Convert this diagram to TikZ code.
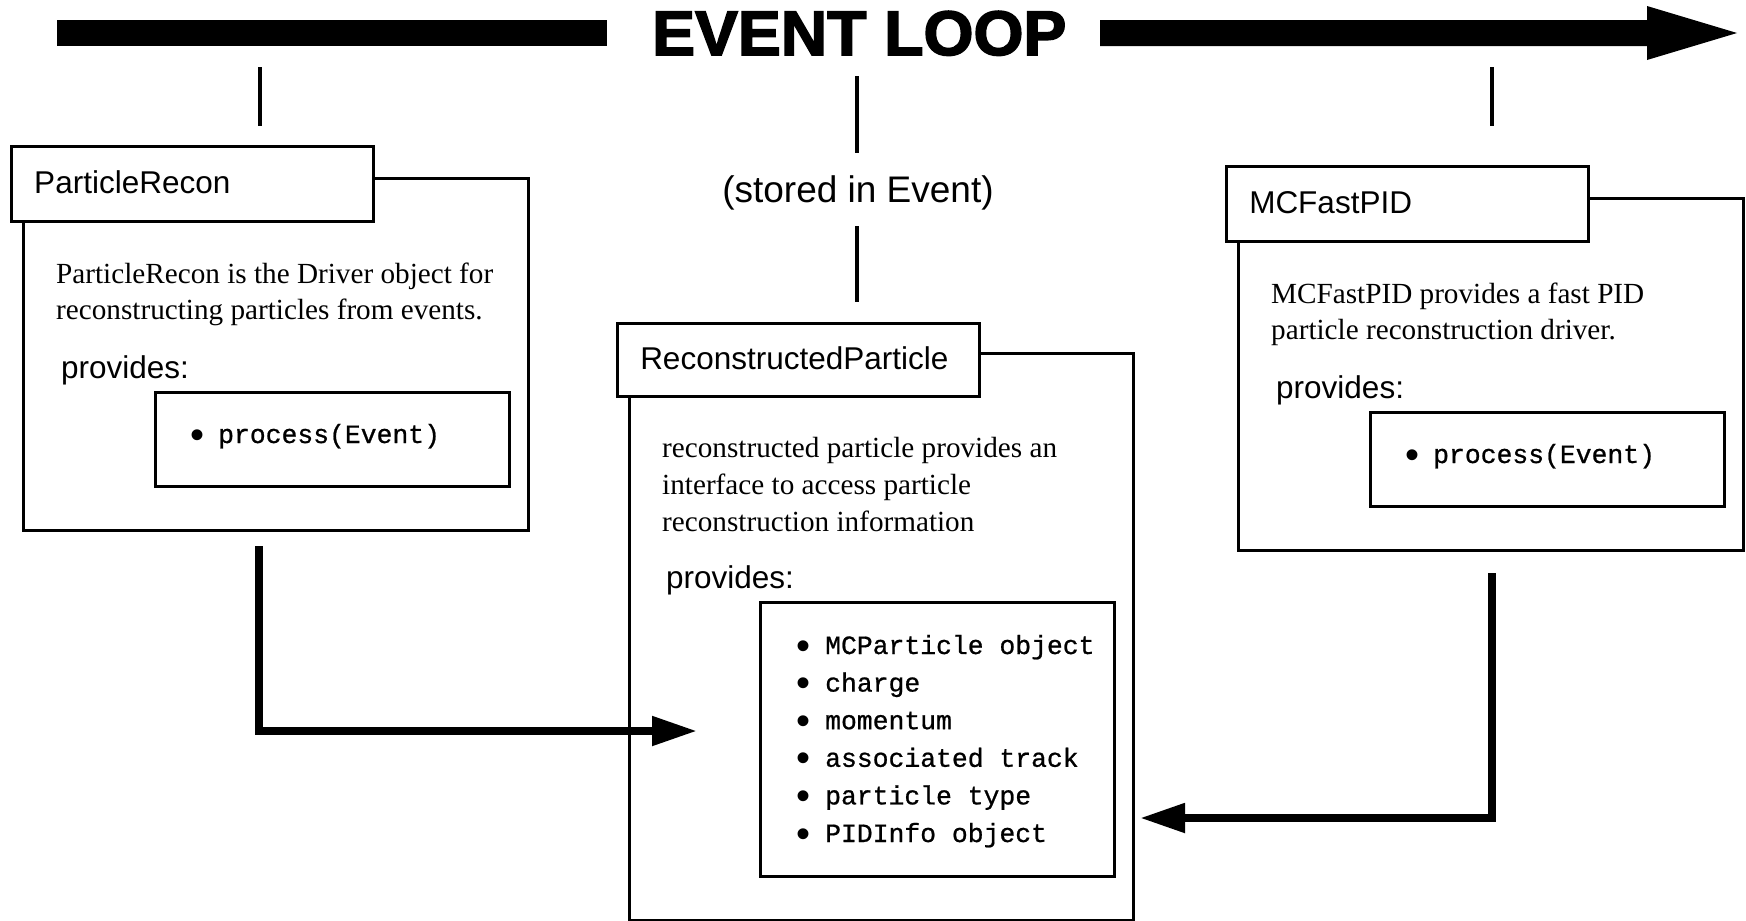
\documentclass[tikz,border=0pt]{standalone}
\usepackage{fontspec}
\setmainfont{Liberation Serif}
\setsansfont{Liberation Sans}
\setmonofont{Liberation Mono}[FakeBold=0.8]
\newfontfamily\heavyfont{Liberation Sans}[BoldFeatures={FakeBold=2.5}]
\usetikzlibrary{arrows.meta}

\newcommand\titlefont{\sffamily\fontsize{31.5}{38}\selectfont}
\newcommand\descfont{\rmfamily\fontsize{29.2}{37}\selectfont}
\newcommand\codefont{\ttfamily\fontsize{26.4}{37}\selectfont}
\newcommand\dotfont{\sffamily\fontsize{40}{40}\selectfont}

\begin{document}
\begin{tikzpicture}[x=1pt,y=-1pt,
  body/.style={draw, line width=2.5pt, inner sep=0pt, anchor=north west},
  frame/.style={draw, fill=white, line width=2.5pt, inner sep=0pt,
    anchor=north west, minimum width=362pt, minimum height=75pt,
    text width=316pt, align=left, text height=23pt, text depth=4pt,
    font=\titlefont},
  txt/.style={anchor=base west, inner sep=0pt, font=\descfont},
  prov/.style={anchor=base west, inner sep=0pt, font=\titlefont},
  code/.style={anchor=base west, inner sep=0pt, font=\codefont},
  dot/.style={anchor=base, inner sep=0pt, font=\dotfont},
  tick/.style={line width=4.5pt},
  flow/.style={line width=8pt, -{Triangle[length=45pt,width=28pt]}}]
\useasboundingbox (0,0) rectangle (1746,921);

% ---- event loop banner ----
\fill (57,20) rectangle (607,46);
\fill (1100,20) -- (1647,20) -- (1647,6) -- (1737,33) -- (1647,60)
      -- (1647,46) -- (1100,46) -- cycle;
\node[anchor=base west, inner sep=0pt,
      font=\heavyfont\bfseries\fontsize{63}{66}\selectfont] (loop) at (652,55)
      {\scalebox{1.02}[1]{EVENT LOOP}};

% ---- ParticleRecon ----
\node[body, minimum width=505pt, minimum height=352pt] (prBody) at (22,177) {};
\node[frame] (prTitle) at (10,145) {ParticleRecon};
\node[txt] (prD1) at (56,283) {ParticleRecon is the Driver object for};
\node[txt] (prD2) at (56,319) {reconstructing particles from events.};
\node[prov] (prProv) at (61,378) {provides:};
\node[body, minimum width=354pt, minimum height=94pt] (prList) at (154,391) {};
\node[dot] (prB1) at (197,448) {•};
\node[code] (prI1) at (218,443) {process(Event)};

% ---- MCFastPID ----
\node[body, minimum width=505pt, minimum height=352pt] (mcBody) at (1237,197) {};
\node[frame] (mcTitle) at (1225,165) {MCFastPID};
\node[txt] (mcD1) at (1271,303) {MCFastPID provides a fast PID};
\node[txt] (mcD2) at (1271,339) {particle reconstruction driver.};
\node[prov] (mcProv) at (1276,398) {provides:};
\node[body, minimum width=354pt, minimum height=94pt] (mcList) at (1369,411) {};
\node[dot] (mcB1) at (1412,468) {•};
\node[code] (mcI1) at (1433,463) {process(Event)};

% ---- ReconstructedParticle ----
\node[body, minimum width=504pt, minimum height=567pt] (rpBody) at (628,352) {};
\node[frame, minimum height=73pt] (rpTitle) at (616,322) {ReconstructedParticle};
\node[txt] (rpD1) at (662,457) {reconstructed particle provides an};
\node[txt] (rpD2) at (662,494) {interface to access particle};
\node[txt] (rpD3) at (662,531) {reconstruction information};
\node[prov] (rpProv) at (666,588) {provides:};
\node[body, minimum width=354pt, minimum height=274pt] (rpList) at (759,601) {};
\foreach \item [count=\k from 0] in
  {MCParticle object, charge, momentum, associated track, particle type, PIDInfo object}
{
  \node[dot] (rpB\k) at (803,659+37.6*\k) {•};
  \node[code] (rpI\k) at (825,654+37.6*\k) {\item};
}

% ---- label on the middle link ----
\node[anchor=base, inner sep=0pt, font=\sffamily\fontsize{37}{40}\selectfont]
  (stored) at (858,202) {(stored in Event)};

% ---- links from the event loop ----
\coordinate (lA) at (260,67);   \coordinate (lB) at (260,126);
\coordinate (mA) at (857,76);   \coordinate (mB) at (857,153);
\coordinate (mC) at (857,226);  \coordinate (mD) at (857,302);
\coordinate (rA) at (1492,67);  \coordinate (rB) at (1492,126);
\draw[tick] (lA) -- (lB);
\draw[tick] (mA) -- (mB);
\draw[tick] (mC) -- (mD);
\draw[tick] (rA) -- (rB);

% ---- data flow into ReconstructedParticle ----
\coordinate (prOut) at (259,546);
\coordinate (rpInL) at (697,731);
\coordinate (mcOut) at (1492,573);
\coordinate (rpInR) at (1140,818);
\draw[flow] (prOut) |- (rpInL);
\draw[flow] (mcOut) |- (rpInR);
\end{tikzpicture}
\end{document}
